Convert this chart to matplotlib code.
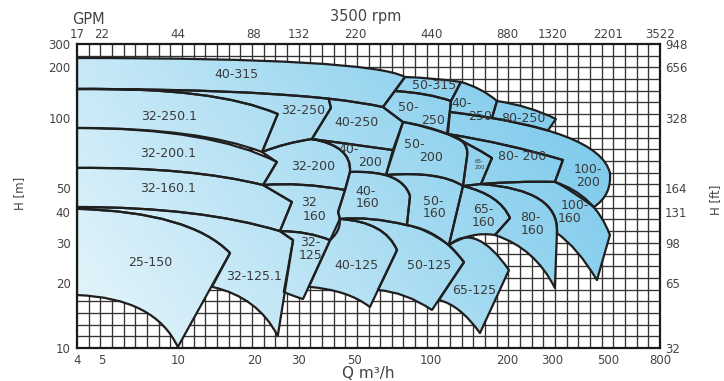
import numpy as np
import matplotlib
matplotlib.use("Agg")
import matplotlib.pyplot as plt
from matplotlib.path import Path
from matplotlib.patches import PathPatch
from matplotlib.image import AxesImage
from matplotlib.collections import LineCollection
from matplotlib.ticker import NullLocator

plt.rcParams['font.family'] = ['DejaVu Sans']

# ------------------------------------------------------------------ data
Q_TICKS = [4, 5, 10, 20, 30, 50, 100, 200, 300, 500, 800]
GPM_LABELS = ["17", "22", "44", "88", "132", "220", "440", "880", "1320", "2201", "3522"]
H_TICKS = [10, 20, 30, 40, 50, 100, 200, 300]
FT_LABELS = ["32", "65", "98", "131", "164", "328", "656", "948"]

# region outlines in (Q m3/h, H m); "Q" = quadratic curve (control, end)
OUT_40_315 = [("M", 4, 234.4), ("Q", 57.3, 234.4, 78.8, 174.6), ("L", 64.5, 116.1), ("Q", 30.3, 148.3, 4, 148.3)]
OUT_50_315 = [("M", 78.8, 174.6), ("Q", 103.5, 172.2, 131.0, 163.2), ("L", 119.7, 126.0), ("Q", 97.1, 140.5, 71.9, 144.3)]
OUT_32_250_1 = [("M", 4, 148.3), ("Q", 14.0, 152.4, 24.8, 105.6), ("L", 21.5, 71.4), ("Q", 12.23, 90.6, 4, 90.6)]
OUT_32_250 = [("M", 4, 148.3), ("Q", 17.6, 148.3, 39.4, 130.2), ("L", 40.2, 114.6), ("L", 33.8, 81.2),
              ("Q", 26.5, 78.1, 21.5, 71.4), ("L", 24.8, 105.6), ("Q", 14.0, 152.4, 4, 148.3)]
OUT_40_250 = [("M", 39.4, 130.2), ("Q", 52.7, 124.1, 64.5, 116.1), ("L", 77.4, 96.1), ("L", 70.6, 72.8),
              ("Q", 47.8, 77.3, 33.8, 81.2), ("L", 40.2, 114.6)]
OUT_50_250 = [("M", 71.9, 144.3), ("Q", 97.1, 140.5, 119.7, 126.0), ("L", 115.4, 85.3),
              ("Q", 94.5, 92.4, 77.4, 96.1), ("L", 64.5, 116.1)]
OUT_40_250B = [("M", 131.0, 163.2), ("Q", 158.6, 150.3, 181.8, 126.0), ("L", 173.7, 100.0),
               ("Q", 145.5, 104.6, 118.6, 108.5), ("L", 119.7, 126.0)]
OUT_80_250 = [("M", 181.8, 126.0), ("Q", 245.3, 117.7, 310.6, 99.0), ("L", 288.9, 88.4),
              ("Q", 232.3, 94.8, 173.7, 100.0)]
OUT_32_200_1 = [("M", 4, 90.6), ("Q", 13.4, 90.6, 24.6, 64.7), ("L", 21.7, 51.5), ("Q", 11.17, 61.6, 4, 61.0)]
OUT_32_200 = [("M", 21.5, 71.4), ("Q", 26.5, 78.1, 33.8, 81.2), ("Q", 48.7, 75.8, 47.8, 58.6), ("L", 45.7, 49.1),
              ("Q", 30.3, 53.1, 21.7, 51.5), ("L", 24.6, 64.7)]
OUT_40_200 = [("M", 33.8, 81.2), ("Q", 47.8, 77.3, 70.6, 72.8), ("L", 66.3, 56.9), ("Q", 56.3, 59.2, 47.8, 58.6),
              ("Q", 48.7, 75.8, 33.8, 81.2)]
OUT_50_200 = [("M", 77.4, 96.1), ("Q", 97.1, 92.4, 116.4, 85.3), ("Q", 142.2, 80.4, 138.4, 68.0), ("L", 133.5, 51.0),
              ("Q", 108.3, 59.2, 66.3, 56.9)]
OUT_65_200 = [("M", 116.4, 85.3), ("Q", 142.2, 80.4, 138.4, 68.0), ("L", 133.5, 51.0), ("L", 157.2, 52.0),
              ("L", 173.7, 67.3), ("Q", 144.9, 76.5, 116.4, 85.3)]
OUT_80_200 = [("M", 116.4, 85.3), ("Q", 195.5, 78.1, 331.0, 66.0), ("L", 307.8, 53.1), ("Q", 220.0, 53.6, 157.2, 52.0),
              ("L", 173.7, 67.3), ("Q", 144.9, 76.5, 116.4, 85.3)]
OUT_100_200 = [("M", 118.6, 108.5), ("Q", 463.2, 88.8, 507.6, 58.0), ("Q", 516.9, 46.9, 438.8, 41.9),
               ("Q", 346.4, 50.0, 307.8, 53.1), ("L", 331.0, 66.0), ("Q", 195.5, 78.1, 116.4, 85.3)]
OUT_32_160_1 = [("M", 4, 61.0), ("Q", 11.17, 61.6, 21.7, 51.5), ("L", 28.2, 43.9), ("L", 25.3, 33.5),
                ("Q", 12.23, 41.9, 4, 41.9)]
OUT_32_160 = [("M", 21.7, 51.5), ("Q", 30.3, 53.1, 45.7, 49.1), ("L", 42.9, 40.0), ("Q", 45.3, 34.5, 39.9, 30.8),
              ("Q", 32.6, 33.5, 25.3, 33.5), ("L", 28.2, 43.9)]
OUT_40_160 = [("M", 47.8, 58.6), ("Q", 76.7, 59.8, 82.5, 46.4), ("L", 80.2, 35.4), ("Q", 57.3, 38.5, 43.6, 37.5),
              ("L", 42.9, 40.0), ("L", 45.7, 49.1)]
OUT_50_160 = [("M", 66.3, 56.9), ("Q", 108.3, 59.2, 133.5, 51.0), ("L", 117.5, 29.4), ("Q", 94.5, 34.5, 80.2, 35.4),
              ("L", 82.5, 46.4), ("Q", 79.1, 53.6, 66.3, 56.9)]
OUT_65_160 = [("M", 133.5, 51.0), ("Q", 186.8, 46.9, 204.6, 37.8), ("L", 178.5, 32.3), ("Q", 144.9, 33.5, 117.5, 29.4)]
OUT_80_160 = [("M", 133.5, 51.0), ("L", 157.2, 52.0), ("Q", 322.1, 49.1, 313.5, 32.9), ("L", 307.8, 18.96),
              ("Q", 256.7, 28.5, 178.5, 32.3), ("L", 204.6, 37.8), ("Q", 186.8, 46.9, 133.5, 51.0)]
OUT_100_160 = [("M", 307.8, 53.1), ("Q", 442.8, 46.9, 507.6, 32.3), ("L", 450.9, 20.6), ("Q", 379.4, 28.5, 313.5, 32.9),
               ("Q", 322.1, 49.1, 157.2, 52.0), ("Q", 220.0, 53.6, 307.8, 53.1)]
OUT_25_150 = [("M", 4, 41.2), ("Q", 11.17, 40.0, 16.07, 27.1), ("L", 10.0, 10.1), ("Q", 8.13, 17.04, 4, 17.59)]
OUT_32_125_1 = [("M", 4, 41.9), ("Q", 12.23, 41.9, 25.3, 33.5), ("L", 28.5, 30.8), ("L", 24.8, 11.36),
                ("Q", 20.7, 17.22, 13.64, 19.2), ("L", 16.07, 27.1), ("Q", 11.17, 40.0, 4, 41.2)]
OUT_32_125 = [("M", 25.3, 33.5), ("Q", 32.6, 33.5, 39.9, 30.8), ("L", 31.2, 16.86), ("Q", 28.5, 17.4, 26.2, 18.17),
              ("L", 28.5, 30.8)]
OUT_40_125 = [("M", 43.6, 37.5), ("Q", 65.7, 36.5, 73.3, 27.9), ("L", 57.3, 15.48), ("Q", 46.9, 18.56, 32.9, 19.2),
              ("L", 39.9, 30.8)]
OUT_50_125 = [("M", 43.6, 37.5), ("Q", 57.3, 38.5, 80.2, 35.4), ("Q", 108.3, 33.8, 134.7, 24.7), ("L", 100.7, 15.0),
              ("Q", 78.8, 18.17, 61.6, 18.56), ("L", 73.3, 27.9), ("Q", 65.7, 36.5, 43.6, 37.5)]
OUT_65_125 = [("M", 117.5, 29.4), ("Q", 150.2, 36.5, 202.7, 22.8), ("L", 155.8, 11.73), ("Q", 129.9, 15.81, 107.3, 16.68),
              ("L", 134.7, 24.7), ("Q", 126.1, 27.3, 117.5, 29.4)]

REGIONS = [OUT_40_315, OUT_50_315, OUT_32_250_1, OUT_32_250, OUT_40_250, OUT_50_250, OUT_40_250B, OUT_80_250,
           OUT_32_200_1, OUT_32_200, OUT_40_200, OUT_50_200, OUT_65_200, OUT_80_200, OUT_100_200,
           OUT_32_160_1, OUT_32_160, OUT_40_160, OUT_50_160, OUT_65_160, OUT_80_160, OUT_100_160,
           OUT_25_150, OUT_32_125_1, OUT_32_125, OUT_40_125, OUT_50_125, OUT_65_125]

LABEL_TEXT = ["40-315", "50-315", "32-250.1", "32-250", "40-250", "50-", "250", "40-", "250", "80-250",
              "32-200.1", "32-200", "40-", "200", "50-", "200", "80- 200", "100-", "200",
              "32-160.1", "32", "160", "40-", "160", "50-", "160", "65-", "160", "80-", "160", "100-", "160",
              "25-150", "32-125.1", "32-", "125", "40-125", "50-125", "65-125"]
LABEL_Q = [17.0, 102.5, 9.23, 31.2, 50.9, 81.0, 101.6, 132.3, 155.8, 230.2,
           9.15, 34.2, 47.4, 57.3, 85.5, 99.8, 228.1, 415.5, 415.5,
           9.15, 32.9, 34.8, 55.3, 56.3, 101.6, 103.5, 160.1, 161.5, 245.3, 252.1, 369.3, 352.8,
           7.76, 20.0, 33.2, 33.5, 50.5, 98.0, 147.5]
LABEL_H = [179.4, 154.5, 101.4, 110.0, 96.1, 115.3, 97.5, 122.6, 101.4, 100.0,
           70.7, 61.6, 73.2, 64.4, 76.9, 67.6, 68.0, 60.0, 52.8,
           49.6, 43.5, 38.5, 48.6, 43.1, 44.3, 39.3, 40.9, 36.3, 38.0, 33.7, 42.3, 37.5,
           24.5, 21.3, 30.1, 26.4, 24.0, 24.0, 18.56]
TINY_TEXT = ["65-", "200"]
TINY_Q = [154.4, 155.8]
TINY_H = [64.7, 61.0]

# ------------------------------------------------------------------ layout
W, H = 724, 381
AX_L, AX_R, AX_T, AX_B = 77, 660, 44, 348
Y_TICK_PX = [0, 65, 105, 136, 160, 230, 281, 304]   # tick heights above bottom edge (px)

_LA = np.log10(np.array(H_TICKS, float))
_PA = np.array(Y_TICK_PX, float)
_S0 = (_PA[1] - _PA[0]) / (_LA[1] - _LA[0])
_S1 = (_PA[-1] - _PA[-2]) / (_LA[-1] - _LA[-2])


def y_fwd(h):
    h = np.asarray(h, float)
    l = np.log10(np.clip(h, 1e-9, None))
    out = np.interp(l, _LA, _PA)
    out = np.where(l < _LA[0], _PA[0] + (l - _LA[0]) * _S0, out)
    out = np.where(l > _LA[-1], _PA[-1] + (l - _LA[-1]) * _S1, out)
    return out


def y_inv(p):
    p = np.asarray(p, float)
    l = np.interp(p, _PA, _LA)
    l = np.where(p < _PA[0], _LA[0] + (p - _PA[0]) / _S0, l)
    l = np.where(p > _PA[-1], _LA[-1] + (p - _PA[-1]) / _S1, l)
    return 10.0 ** l


fig = plt.figure(figsize=(W / 100, H / 100), dpi=100)
ax = fig.add_axes([AX_L / W, (H - AX_B) / H, (AX_R - AX_L) / W, (AX_B - AX_T) / H])
ax.set_xscale('log')
ax.set_yscale('function', functions=(y_fwd, y_inv))
ax.set_xlim(4, 800)
ax.set_ylim(10, 300)

# grid (evenly spaced, as in the printed chart paper)
nvx, nhy = 50, 26
vsegs = [[(i / nvx, 0), (i / nvx, 1)] for i in range(1, nvx)]
hsegs = [[(0, j / nhy), (1, j / nhy)] for j in range(1, nhy)]
ax.add_collection(LineCollection(vsegs + hsegs, colors='#333333', linewidths=0.95,
                                 transform=ax.transAxes, zorder=1))

# gradient used for the coverage areas
nx, ny = 300, 160
gx, gy = np.meshgrid(np.linspace(0, 1, nx), np.linspace(0, 1, ny))
t = np.clip(0.80 * gx + 0.30 * gy, 0, 1)[..., None]
c0 = np.array([0.91, 0.965, 0.985])
c1 = np.array([0.46, 0.78, 0.92])
grad = c0 + (c1 - c0) * t


def build_path(outline):
    verts, codes = [], []
    for seg in outline:
        if seg[0] == "M":
            verts.append((seg[1], seg[2])); codes.append(Path.MOVETO)
        elif seg[0] == "L":
            verts.append((seg[1], seg[2])); codes.append(Path.LINETO)
        else:
            verts += [(seg[1], seg[2]), (seg[3], seg[4])]
            codes += [Path.CURVE3, Path.CURVE3]
    verts.append(verts[0]); codes.append(Path.CLOSEPOLY)
    return Path(verts, codes)


paths = [build_path(o) for o in REGIONS]
for p in paths:
    clip = PathPatch(p, transform=ax.transData)
    im = AxesImage(ax, interpolation='bilinear', origin='lower', extent=(0, 1, 0, 1),
                   transform=ax.transAxes, zorder=2)
    im.set_data(grad)
    ax.add_image(im)
    im.set_clip_path(clip)
for p in paths:
    ax.add_patch(PathPatch(p, facecolor='none', edgecolor='#1f1f1f', lw=1.6,
                           joinstyle='round', zorder=3))

for s, q, h in zip(LABEL_TEXT, LABEL_Q, LABEL_H):
    ax.text(q, h, s, ha='center', va='center', fontsize=9, color='#3a3a3a', zorder=4)
for s, q, h in zip(TINY_TEXT, TINY_Q, TINY_H):
    ax.text(q, h, s, ha='center', va='center', fontsize=4, color='#3a3a3a', zorder=4)

# axes & ticks
ax.set_xticks(Q_TICKS, labels=[str(q) for q in Q_TICKS])
ax.xaxis.set_minor_locator(NullLocator())
ax.set_yticks(H_TICKS, labels=[str(h) for h in H_TICKS])
ax.yaxis.set_minor_locator(NullLocator())
ax.tick_params(axis='x', length=0, pad=4.5, labelsize=8.5, labelcolor='#444444')
ax.tick_params(axis='y', length=0, pad=4.5, labelsize=8.5, labelcolor='#444444')
for sp in ax.spines.values():
    sp.set_linewidth(1.6)
    sp.set_color('#1a1a1a')
    sp.set_zorder(5)

axt = ax.twiny()
axt.set_xscale('log')
axt.set_xlim(4, 800)
axt.set_xticks(Q_TICKS, labels=GPM_LABELS)
axt.xaxis.set_minor_locator(NullLocator())
axt.tick_params(axis='x', length=0, pad=2.0, labelsize=8.5, labelcolor='#444444')
for sp in axt.spines.values():
    sp.set_visible(False)

axr = ax.twinx()
axr.set_yscale('function', functions=(y_fwd, y_inv))
axr.set_ylim(10, 300)
axr.set_yticks(H_TICKS, labels=FT_LABELS)
axr.yaxis.set_minor_locator(NullLocator())
axr.tick_params(axis='y', length=0, pad=3.5, labelsize=8.5, labelcolor='#444444')
for sp in axr.spines.values():
    sp.set_visible(False)

fig.text(88 / W, 1 - 19 / H, "GPM", ha='center', va='center', fontsize=10.5, color='#444444')
fig.text(366 / W, 1 - 17 / H, "3500 rpm", ha='center', va='center', fontsize=10.5, color='#444444')
fig.text(368 / W, 1 - 374 / H, "Q m³/h", ha='center', va='center', fontsize=11, color='#444444')
fig.text(20 / W, 1 - 193 / H, "H [m]", ha='center', va='center', rotation=90, fontsize=8.5, color='#444444')
fig.text(716 / W, 1 - 200 / H, "H [ft]", ha='center', va='center', rotation=90, fontsize=8.5, color='#444444')

fig.savefig("out.png", dpi=100)
